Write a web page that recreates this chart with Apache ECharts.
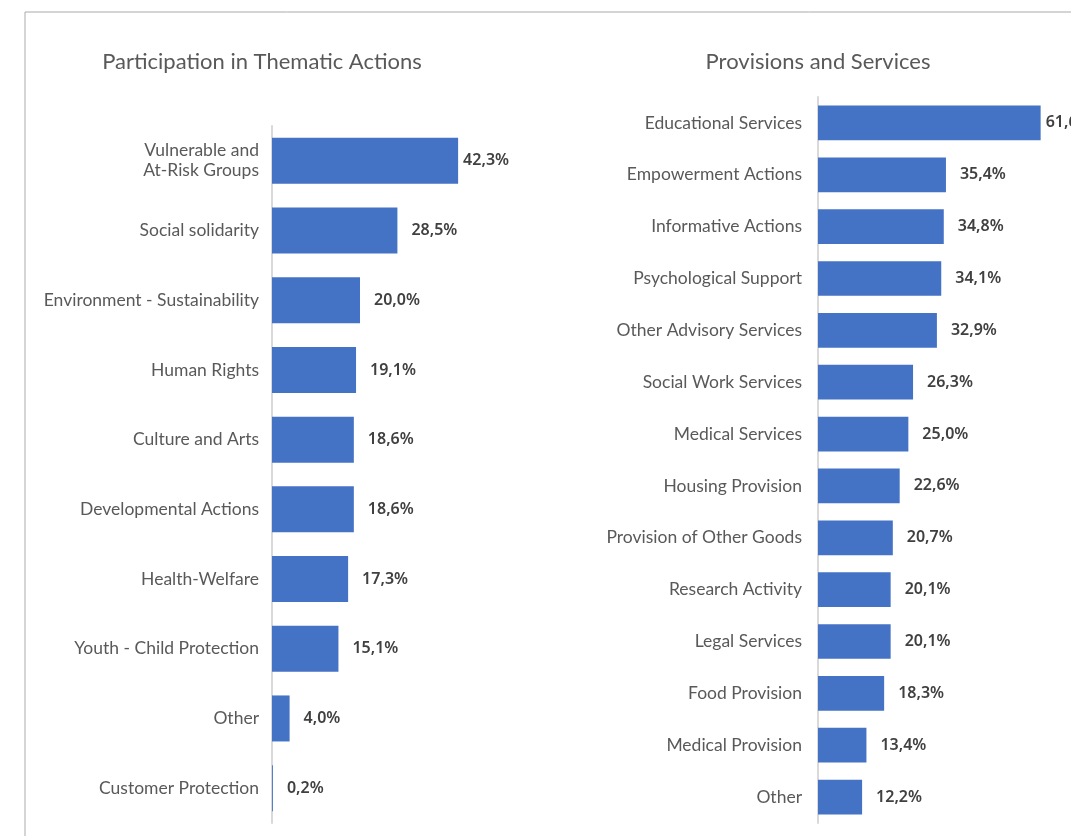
<!DOCTYPE html>
<html><head><meta charset="utf-8">
<script src="https://cdn.jsdelivr.net/npm/echarts@6/dist/echarts.min.js"></script>
<style>html,body{margin:0;padding:0;background:#fff}#c{width:1071px;height:836px}</style>
</head><body><div id="c"></div>
<script>
const leftTitle = 'Participation in Thematic Actions';
const leftCategories = ['Vulnerable and\nAt-Risk Groups','Social solidarity','Environment - Sustainability','Human Rights','Culture and Arts','Developmental Actions','Health-Welfare','Youth - Child Protection','Other','Customer Protection'];
const leftValues = [42.3,28.5,20.0,19.1,18.6,18.6,17.3,15.1,4.0,0.2];
const rightTitle = 'Provisions and Services';
const rightCategories = ['Educational Services','Empowerment Actions','Informative Actions','Psychological Support','Other Advisory Services','Social Work Services','Medical Services','Housing Provision','Provision of Other Goods','Research Activity','Legal Services','Food Provision','Medical Provision','Other'];
const rightValues = [61.6,35.4,34.8,34.1,32.9,26.3,25.0,22.6,20.7,20.1,20.1,18.3,13.4,12.2];

const chart = echarts.init(document.getElementById('c'));
const catLabel = {color:'#595959', fontFamily:'Lato', fontSize:17.5, lineHeight:20};
const valLabel = {show:true, position:'right', distance:14, color:'#404040', fontFamily:'Noto Sans', fontWeight:600, fontSize:16,
  formatter: p => p.value.toFixed(1).replace('.', ',') + '%'};
const barColor = '#4472c4';
const firstClose = v => v.map((x,i) => i === 0 ? {value:x, label:{distance:5}} : x);
chart.setOption({
  animation:false,
  title:[
    {text:leftTitle, left:257, top:46, textAlign:'center', textStyle:{color:'#595959', fontFamily:'Lato', fontSize:22, fontWeight:'normal'}},
    {text:rightTitle, left:813, top:46, textAlign:'center', textStyle:{color:'#595959', fontFamily:'Lato', fontSize:22, fontWeight:'normal'}}
  ],
  grid:[
    {left:272, top:126, width:220, height:697},
    {left:818, top:97, right:0, height:726}
  ],
  xAxis:[
    {gridIndex:0, type:'value', min:0, max:50, show:false},
    {gridIndex:1, type:'value', min:0, max:70, show:false}
  ],
  yAxis:[
    {gridIndex:0, type:'category', inverse:true, data:leftCategories,
     axisLine:{lineStyle:{color:'#d9d9d9', width:2}}, axisTick:{show:false},
     axisLabel:Object.assign({margin:13}, catLabel)},
    {gridIndex:1, type:'category', inverse:true, data:rightCategories,
     axisLine:{lineStyle:{color:'#d9d9d9', width:2}}, axisTick:{show:false},
     axisLabel:Object.assign({margin:16}, catLabel)}
  ],
  series:[
    {type:'bar', xAxisIndex:0, yAxisIndex:0, data:firstClose(leftValues), barWidth:'66%', itemStyle:{color:barColor}, label:valLabel},
    {type:'bar', xAxisIndex:1, yAxisIndex:1, data:firstClose(rightValues), barWidth:'67%', itemStyle:{color:barColor}, label:valLabel}
  ],
  graphic:[
    {type:'line', shape:{x1:25, y1:12, x2:1071, y2:12}, style:{stroke:'#aaaaaa', lineWidth:1}},
    {type:'line', shape:{x1:25, y1:12, x2:25, y2:836}, style:{stroke:'#aaaaaa', lineWidth:1}}
  ]
});
</script></body></html>
